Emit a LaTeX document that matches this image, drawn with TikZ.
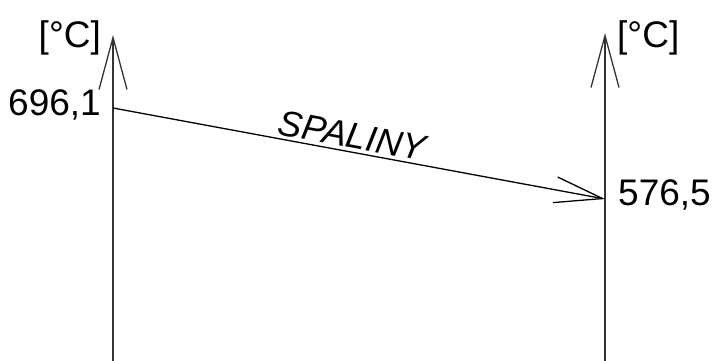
\documentclass[tikz,border=0pt]{standalone}
\usepackage{fontspec}
\setmainfont{Liberation Sans}
\usetikzlibrary{arrows.meta}
\begin{document}
\begin{tikzpicture}[x=1pt,y=-1pt,
  os/.style={draw=black!80, line width=1.5pt, -{Straight Barb[length=52pt,width=28pt,line width=1.3pt]}},
  przeplyw/.style={line width=1.3pt, -{Straight Barb[length=48pt,width=26pt,line width=1.3pt]}},
  opis/.style={inner sep=0pt, font=\fontsize{37}{42}\selectfont}]
\useasboundingbox (0,0) rectangle (714,360);
%osie
\coordinate (L0) at (113,362);
\coordinate (L1) at (113,35);
\coordinate (P0) at (605,362);
\coordinate (P1) at (605,33);
\draw[os] (L0) -- (L1);
\draw[os] (P0) -- (P1);
\node[opis, anchor=base east] (jl) at (101,47) {[°C]};
\node[opis, anchor=base west] (jp) at (617,47) {[°C]};
%spaliny
\coordinate (A) at (113,108);
\coordinate (B) at (605,199);
\draw[przeplyw] (A) -- (B) node[pos=0.48, above, sloped, inner sep=3pt, font=\fontsize{36}{40}\selectfont\itshape] (sp) {SPALINY};
\node[opis, anchor=base east] (tA) at (101,115) {696,1};
\node[opis, anchor=base west] (tB) at (618,205) {576,5};
\end{tikzpicture}
\end{document}
